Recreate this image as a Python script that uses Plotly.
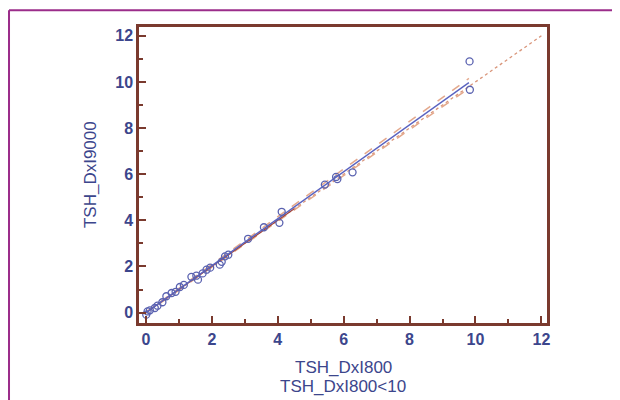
import plotly.graph_objects as go

# Data
tsh_dxi800 = [0.01, 0.05, 0.12, 0.27, 0.35, 0.5, 0.62, 0.78, 0.9, 1.03, 1.15, 1.38, 1.53, 1.58,
              1.72, 1.84, 1.95, 2.24, 2.3, 2.4, 2.5, 3.1, 3.58, 4.05, 4.12, 5.43, 5.77, 5.81,
              6.27, 9.82, 9.83]
tsh_dxi9000 = [-0.09, 0.05, 0.1, 0.2, 0.3, 0.45, 0.71, 0.85, 0.9, 1.11, 1.2, 1.55, 1.6, 1.43,
               1.7, 1.86, 1.95, 2.08, 2.2, 2.44, 2.51, 3.2, 3.7, 3.89, 4.37, 5.55, 5.88, 5.79,
               6.08, 10.89, 9.66]

identity_x = [0, 12]
reg_x = [0, 9.8]
reg_y = [0.0, 9.97]
ci_upper_y = [0.02, 10.15]
ci_lower_y = [-0.02, 9.72]

x_ticks = [0, 2, 4, 6, 8, 10, 12]
y_ticks = [0, 2, 4, 6, 8, 10, 12]

axis_col = "#7a3a2e"
text_col = "#3c468c"
font_fam = "Liberation Sans, Arial, sans-serif"

fig = go.Figure()
fig.add_trace(go.Scatter(x=identity_x, y=identity_x, mode="lines",
                         line=dict(color="#d9957a", width=1.3, dash="dot"), hoverinfo="skip"))
fig.add_trace(go.Scatter(x=reg_x, y=ci_upper_y, mode="lines",
                         line=dict(color="#e3a88c", width=1.5, dash="dash"), hoverinfo="skip"))
fig.add_trace(go.Scatter(x=reg_x, y=ci_lower_y, mode="lines",
                         line=dict(color="#e3a88c", width=1.5, dash="dash"), hoverinfo="skip"))
fig.add_trace(go.Scatter(x=[0, 4.5], y=[0, 4.5], mode="lines",
                         line=dict(color="#a0443a", width=1.2), hoverinfo="skip"))
fig.add_trace(go.Scatter(x=reg_x, y=reg_y, mode="lines",
                         line=dict(color="#5a63c0", width=1.4), hoverinfo="skip"))
fig.add_trace(go.Scatter(x=tsh_dxi800, y=tsh_dxi9000, mode="markers",
                         marker=dict(symbol="circle-open", size=7, color="#5a62b0",
                                     line=dict(width=1.3))))

axis_common = dict(
    showgrid=False, zeroline=False, showline=True, linecolor=axis_col, linewidth=2.5,
    mirror=True, ticks="inside", ticklen=7, tickwidth=2, tickcolor=axis_col,
    tickfont=dict(family=font_fam, size=16, color=text_col, weight="bold"),
    minor=dict(ticks="inside", ticklen=4, tickwidth=2, tickcolor=axis_col, dtick=1),
)

fig.update_layout(
    width=612, height=392,
    margin=dict(l=131, r=73, t=19, b=77),
    paper_bgcolor="white", plot_bgcolor="white",
    showlegend=False,
    font=dict(family=font_fam, color=text_col),
    xaxis=dict(range=[-0.21, 12.17], tickvals=x_ticks, **axis_common),
    yaxis=dict(range=[-0.45, 12.38], tickvals=y_ticks, **axis_common),
    annotations=[
        dict(text="TSH_DxI800", xref="paper", yref="paper",
             x=0.5, y=-0.152, xanchor="center", yanchor="middle", showarrow=False,
             font=dict(family=font_fam, size=17, color=text_col)),
        dict(text="TSH_DxI800<10", xref="paper", yref="paper",
             x=0.5, y=-0.216, xanchor="center", yanchor="middle", showarrow=False,
             font=dict(family=font_fam, size=17, color=text_col)),
        dict(text="TSH_DxI9000", xref="paper", yref="paper", textangle=-90,
             x=-0.12, y=0.5, xanchor="center", yanchor="middle", showarrow=False,
             font=dict(family=font_fam, size=17, color=text_col)),
    ],
    shapes=[
        dict(type="line", xref="paper", yref="paper", x0=-0.3186, x1=1.2, y0=1.057, y1=1.057,
             line=dict(color="#9b2d8a", width=2)),
        dict(type="line", xref="paper", yref="paper", x0=-0.3186, x1=-0.3186, y0=1.057, y1=-0.3,
             line=dict(color="#9b2d8a", width=2)),
    ],
)

fig.write_html("out.html")
